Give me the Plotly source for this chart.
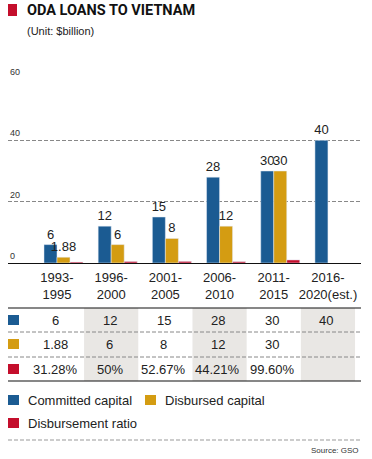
import plotly.graph_objects as go

# ---- data ----
categories = ["1993-<br>1995", "1996-<br>2000", "2001-<br>2005", "2006-<br>2010", "2011-<br>2015", "2016-<br>2020(est.)"]
committed = [6, 12, 15, 28, 30, 40]
disbursed = [1.88, 6, 8, 12, 30, None]
ratio_pct = [31.28, 50, 52.67, 44.21, 99.60, None]
ratio_labels = ["31.28%", "50%", "52.67%", "44.21%", "99.60%", ""]
committed_labels = ["6", "12", "15", "28", "30", "40"]
disbursed_labels = ["1.88", "6", "8", "12", "30", ""]
y_ticks = [0, 20, 40, 60]

BLUE = "#1b5b92"
GOLD = "#d49c12"
RED = "#c40e2c"
TXT = "#222222"
FONT = "Liberation Sans"
W, H = 372, 459

def X(px):
    return px / W

def Y(py):
    return 1 - py / H

xpos = list(range(len(categories)))
bw = 0.24
ratio_vals = [r / 100 if r is not None else None for r in ratio_pct]

fig = go.Figure()
fig.add_trace(go.Bar(x=xpos, y=committed, width=bw, offset=-bw, marker_color=BLUE,
                     text=committed_labels, textposition="outside", cliponaxis=False,
                     textfont=dict(size=13, color=TXT, family=FONT), constraintext="none",
                     name="Committed capital"))
fig.add_trace(go.Bar(x=xpos, y=disbursed, width=bw, offset=0, marker_color=GOLD,
                     text=disbursed_labels, textposition="outside", cliponaxis=False,
                     textfont=dict(size=13, color=TXT, family=FONT), constraintext="none",
                     name="Disbursed capital"))
fig.add_trace(go.Bar(x=xpos, y=ratio_vals, width=bw, offset=bw, marker_color=RED,
                     name="Disbursement ratio"))

shapes = []
annotations = []

# title
shapes.append(dict(type="rect", xref="paper", yref="paper", x0=X(8), x1=X(17), y0=Y(16), y1=Y(4),
                   fillcolor=RED, line_width=0))
annotations.append(dict(xref="paper", yref="paper", x=X(25), y=Y(11), xanchor="left", yanchor="middle",
                        text="<b>ODA LOANS TO VIETNAM</b>", showarrow=False,
                        font=dict(family="Roboto", size=14.5, color="#111")))
annotations.append(dict(xref="paper", yref="paper", x=X(25), y=Y(31), xanchor="left", yanchor="middle",
                        text="(Unit: $billion)", showarrow=False,
                        font=dict(family=FONT, size=11, color=TXT)))

# y tick labels above the gridlines
for t in y_ticks:
    annotations.append(dict(xref="paper", yref="y", x=X(8), y=t, xanchor="left", yanchor="bottom",
                            text=str(t), showarrow=False, yshift=0,
                            font=dict(family=FONT, size=9, color="#333")))

# table
xr = [-0.904, 5.61]
for i in range(len(categories)):
    if i % 2 == 1:
        shapes.append(dict(type="rect", xref="x", yref="paper", x0=i - 0.5, x1=min(i + 0.5, xr[1]),
                           y0=Y(381), y1=Y(308), fillcolor="#e9e7e4", line_width=0, layer="below"))
shapes.append(dict(type="line", xref="paper", yref="paper", x0=X(8), x1=X(361), y0=Y(308), y1=Y(308),
                   line=dict(color="#111", width=1.2)))
shapes.append(dict(type="line", xref="paper", yref="paper", x0=X(8), x1=X(361), y0=Y(381), y1=Y(381),
                   line=dict(color="#111", width=1.2)))
for py in (332, 357):
    shapes.append(dict(type="line", xref="paper", yref="paper", x0=X(8), x1=X(361), y0=Y(py), y1=Y(py),
                       line=dict(color="#888", width=1, dash="4px,2px")))

rows = [(committed_labels, BLUE, 320), (disbursed_labels, GOLD, 344), (ratio_labels, RED, 369)]
for labels, col, py in rows:
    shapes.append(dict(type="rect", xref="paper", yref="paper", x0=X(8), x1=X(19), y0=Y(py + 5), y1=Y(py - 5),
                       fillcolor=col, line_width=0))
    for i, lab in enumerate(labels):
        if lab:
            annotations.append(dict(xref="x", yref="paper", x=i - 0.03, y=Y(py), xanchor="center",
                                    yanchor="middle", text=lab, showarrow=False,
                                    font=dict(family=FONT, size=13, color=TXT)))

# legend
legend_items = [("Committed capital", BLUE, 8, 400), ("Disbursed capital", GOLD, 145, 400),
                ("Disbursement ratio", RED, 8, 423)]
for name, col, px, py in legend_items:
    shapes.append(dict(type="rect", xref="paper", yref="paper", x0=X(px), x1=X(px + 11), y0=Y(py + 5),
                       y1=Y(py - 5), fillcolor=col, line_width=0))
    annotations.append(dict(xref="paper", yref="paper", x=X(px + 18), y=Y(py), xanchor="left",
                            yanchor="middle", text=name, showarrow=False,
                            font=dict(family=FONT, size=13, color=TXT)))

shapes.append(dict(type="line", xref="paper", yref="paper", x0=X(8), x1=X(361), y0=Y(440), y1=Y(440),
                   line=dict(color="#999", width=1, dash="4px,2px")))
annotations.append(dict(xref="paper", yref="paper", x=X(361), y=Y(450), xanchor="right", yanchor="middle",
                        text="Source: GSO", showarrow=False,
                        font=dict(family=FONT, size=8, color="#333")))

fig.update_layout(
    width=W, height=H,
    margin=dict(l=0, r=0, t=0, b=0),
    paper_bgcolor="white", plot_bgcolor="white",
    barmode="overlay", showlegend=False,
    shapes=shapes, annotations=annotations,
    xaxis=dict(domain=[X(8), X(361)], range=xr, tickvals=xpos, ticktext=categories,
               showgrid=False, zeroline=False, showline=True, linecolor="#111", linewidth=1.2,
               ticks="", ticklabelstandoff=2,
               tickfont=dict(family=FONT, size=13, color=TXT), fixedrange=True),
    yaxis=dict(domain=[Y(263), Y(79)], range=[0, 60], tickvals=y_ticks, showticklabels=False,
               showgrid=True, gridcolor="#888", gridwidth=1, griddash="4px,2px",
               zeroline=False, showline=False, fixedrange=True),
    font=dict(family=FONT, color=TXT),
)

fig.write_html("out.html", config={"displayModeBar": False},
               post_script="document.body.style.margin='0';document.body.style.overflow='hidden';")
